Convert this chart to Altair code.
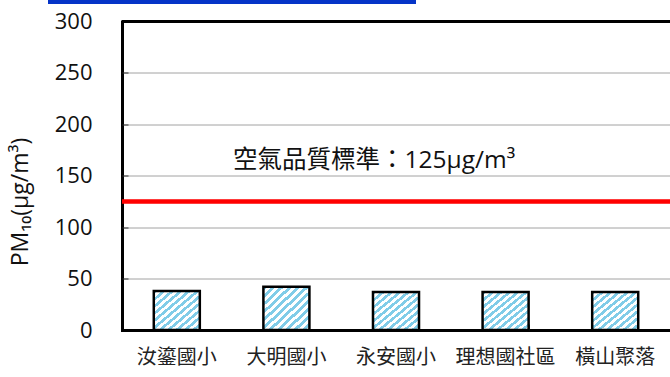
import altair as alt
import pandas as pd

# PM10 measurements per monitoring site
sites = ["汝鎏國小", "大明國小", "永安國小", "理想國社區", "橫山聚落"]
pm10 = [38, 42, 37, 37, 37]
standard = 125  # air-quality standard, μg/m³
y_ticks = [0, 50, 100, 150, 200, 250, 300]

df = pd.DataFrame({"site": sites, "pm10": pm10})

W, H = 548, 308.5
LATIN = "Open Sans, Noto Sans CJK TC"
CJK = "Noto Sans CJK TC"

# diagonal hatch built from a hard-stop linear gradient
blue, white = "#80cce8", "#ffffff"
n_stripes = 11
stops = []
for k in range(n_stripes):
    a, b, c = k / n_stripes, (k + 0.5) / n_stripes, (k + 1) / n_stripes
    stops += [
        {"offset": a, "color": blue},
        {"offset": b, "color": blue},
        {"offset": b, "color": white},
        {"offset": c, "color": white},
    ]
hatch = {"gradient": "linear", "x1": 0, "y1": 0, "x2": 1, "y2": 1, "stops": stops}

x_scale = alt.Scale(paddingInner=0.58, paddingOuter=0.29)
y_scale = alt.Scale(domain=[0, 300], nice=False)

bars = alt.Chart(df).mark_bar(fill=hatch, stroke="black", strokeWidth=2.5).encode(
    x=alt.X(
        "site:N", sort=sites, scale=x_scale,
        axis=alt.Axis(
            title=None, orient="bottom", ticks=False, labelAngle=0,
            domainColor="black", domainWidth=3, domainCap="square",
            labelFont=CJK, labelFontSize=20, labelFontWeight=400,
            labelColor="#222", labelPadding=17,
        ),
    ),
    y=alt.Y(
        "pm10:Q", scale=y_scale,
        axis=alt.Axis(
            title="PM₁₀(μg/m³)", values=y_ticks, ticks=False,
            grid=True, gridDash=[1, 1], gridColor="#444", gridWidth=1,
            domainColor="black", domainWidth=3, domainCap="square",
            labelFont=LATIN, labelFontSize=22, labelFontWeight=400,
            labelColor="#111", labelPadding=30,
            titleFont=LATIN, titleFontSize=23, titleFontWeight=400, titleColor="#111",
            titleX=-102, titleY=180, titleAngle=-90, titleAlign="center", titleBaseline="middle",
        ),
    ),
)

# inward tick marks on both axes
ticks = alt.Chart(df).mark_bar(opacity=0).encode(
    x=alt.X(
        "site:N", sort=sites, scale=x_scale,
        axis=alt.Axis(
            orient="top", offset=-H, tickBand="extent", labels=False, domain=False,
            title=None, grid=False, tickSize=6, tickColor="#555", tickWidth=1,
        ),
    ),
    y=alt.Y(
        "pm10:Q", scale=y_scale,
        axis=alt.Axis(
            orient="left", offset=-6, values=y_ticks[1:-1], labels=False, domain=False,
            title=None, grid=False, tickSize=6, tickColor="#333", tickWidth=1,
        ),
    ),
)

top_frame = alt.Chart(df).mark_rule(color="black", strokeWidth=3).encode(
    y=alt.YDatum(300, axis=None)
)

limit_line = alt.Chart(df).mark_rule(color="#ff0000", strokeWidth=3.5).encode(
    y=alt.YDatum(standard, axis=None)
)

limit_text = alt.Chart(pd.DataFrame({"v": [standard]})).mark_text(
    align="left", baseline="middle", dy=-40, font=LATIN, fontSize=24.5,
    fontWeight=400, color="#111"
).encode(
    x=alt.value(111),
    y=alt.Y("v:Q", axis=None),
    text=alt.value(f"空氣品質標準：{standard}μg/m³"),
)

banner = alt.Chart(pd.DataFrame({"a": [0]})).mark_rect(color="#0534c8").encode(
    x=alt.value(-74), x2=alt.value(294), y=alt.value(-21.5), y2=alt.value(-17.5)
)

chart = (
    alt.layer(bars, ticks, limit_line, top_frame, limit_text, banner)
    .resolve_axis(x="independent", y="independent")
    .properties(
        width=W, height=H,
        autosize=alt.AutoSizeParams(type="none"),
        padding={"left": 122, "top": 21.5, "right": 0, "bottom": 47},
        background="white",
    )
    .configure_view(stroke=None)
)

chart.save("out.html", embed_options={"renderer": "svg", "actions": False})
